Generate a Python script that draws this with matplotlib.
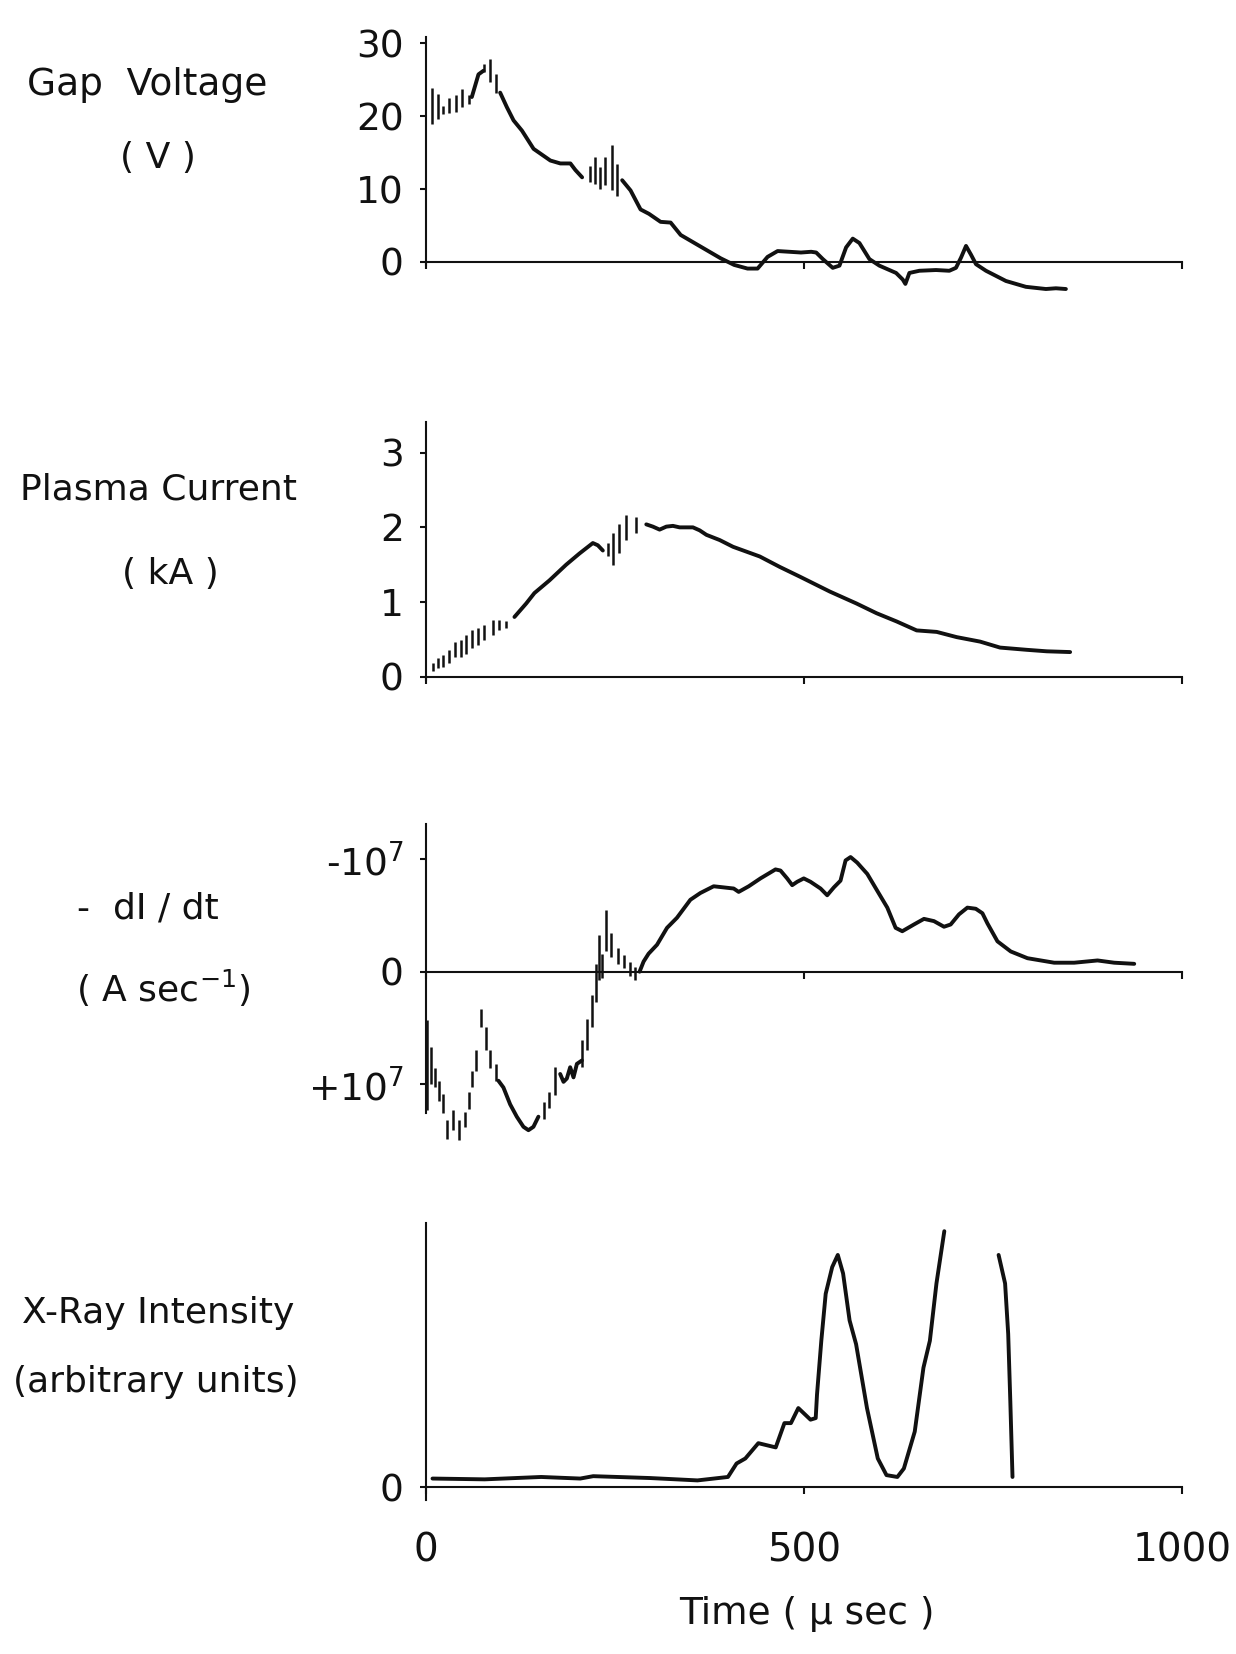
import numpy as np
import matplotlib
matplotlib.use("Agg")
import matplotlib.pyplot as plt

nan = np.nan

# ---- Gap voltage (V) ----
gap_t = [60.6, 69.4, 76.0, nan,
         98.1, 107.0, 115.8, 126.9, 142.3, 164.5, 177.7, 191.0, 197.6, 206.5, nan,
         259.5, 270.6, 283.8, 294.9, 310.3, 323.6, 336.9, 363.4, 389.9, 407.6, 425.3,
         438.6, 451.8, 465.1, 496.0, 509.5, 516.1, 524.9, 538.0, 546.9, 555.7, 564.5,
         573.3, 586.5, 599.7, 621.8, 630.6, 634.1, 639.4, 652.6, 674.6, 692.2, 701.0,
         707.7, 714.3, 720.9, 727.5, 740.7, 767.1, 793.5, 820.0, 833.2, 846.4]
gap_v = [22.6, 25.7, 26.2, nan,
         23.2, 21.2, 19.4, 18.0, 15.5, 13.9, 13.5, 13.5, 12.6, 11.6, nan,
         11.2, 9.8, 7.2, 6.6, 5.5, 5.4, 3.7, 2.1, 0.5, -0.4, -0.9,
         -0.9, 0.7, 1.5, 1.3, 1.4, 1.3, 0.4, -0.8, -0.5, 2.0, 3.2,
         2.6, 0.4, -0.5, -1.5, -2.4, -3.0, -1.5, -1.2, -1.1, -1.2, -0.8,
         0.6, 2.2, 1.0, -0.3, -1.2, -2.6, -3.4, -3.7, -3.6, -3.7]
gap_bar_t = [7.5, 15.5, 23.0, 30.9, 39.4, 47.3, 57.5, 76.9, 84.9, 92.8,
             216.6, 223.3, 230.8, 237.4, 245.4, 252.9]
gap_bar_lo = [18.9, 19.6, 20.3, 20.4, 20.5, 21.3, 21.6, 26.0, 24.6, 23.2,
              11.0, 10.7, 10.0, 10.5, 9.8, 9.1]
gap_bar_hi = [23.9, 23.0, 21.4, 22.5, 22.9, 23.7, 22.9, 27.1, 27.8, 25.8,
              13.2, 14.4, 13.0, 14.4, 16.0, 13.4]

# ---- Plasma current (kA) ----
cur_t = [117.0, 132.5, 143.4, 163.3, 185.4, 203.0, 220.7, 227.3, 233.9, nan,
         291.4, 300.1, 309.0, 317.9, 326.6, 335.5, 353.1, 362.0, 370.9, 388.5,
         406.1, 441.5, 468.0, 494.5, 534.2, 569.5, 596.0, 622.5, 649.0, 675.5,
         702.0, 732.9, 759.3, 794.7, 821.2, 852.0]
cur_i = [0.80, 0.98, 1.12, 1.29, 1.50, 1.65, 1.79, 1.76, 1.69, nan,
         2.04, 2.01, 1.97, 2.01, 2.02, 2.00, 2.00, 1.96, 1.90, 1.83,
         1.74, 1.61, 1.47, 1.34, 1.14, 0.98, 0.85, 0.74, 0.62, 0.60,
         0.53, 0.47, 0.39, 0.36, 0.34, 0.33]
cur_bar_t = [8.8, 15.4, 22.0, 30.0, 38.8, 46.4, 53.0, 60.9, 68.4, 77.2, 88.2, 97.1, 106.0,
             240.5, 247.2, 255.1, 264.9, 278.1]
cur_bar_lo = [0.07, 0.11, 0.13, 0.18, 0.26, 0.27, 0.31, 0.38, 0.42, 0.49, 0.56, 0.63, 0.65,
              1.61, 1.50, 1.65, 1.83, 1.92]
cur_bar_hi = [0.18, 0.25, 0.29, 0.36, 0.47, 0.49, 0.56, 0.63, 0.65, 0.69, 0.76, 0.76, 0.74,
              1.79, 1.92, 2.05, 2.16, 2.14]

# ---- -dI/dt (units of 1e7 A/s) ----
did_t = [95.8, 102.4, 111.3, 120.1, 128.9, 135.5, 142.1, 148.7, nan,
         177.5, 181.9, 186.3, 190.7, 195.1, 199.6, 206.2, nan,
         282.5, 287.8, 294.4, 305.6, 318.8, 332.0, 349.7, 362.9, 380.5, 407.0,
         413.6, 426.9, 442.4, 462.3, 468.9, 477.7, 484.4, 491.0, 499.7, 508.6,
         521.9, 530.7, 539.5, 548.3, 555.0, 561.6, 570.4, 583.7, 596.9, 610.2,
         621.2, 630.0, 645.4, 658.7, 671.9, 685.2, 694.0, 705.0, 716.1, 727.2,
         736.0, 742.6, 755.9, 773.5, 795.6, 830.9, 857.4, 888.3, 910.3, 936.8]
did_y = [-0.97, -1.03, -1.18, -1.29, -1.38, -1.41, -1.38, -1.29, nan,
         -0.91, -0.98, -0.95, -0.85, -0.94, -0.82, -0.79, nan,
         0.00, 0.09, 0.16, 0.24, 0.39, 0.48, 0.64, 0.70, 0.76, 0.74,
         0.71, 0.76, 0.83, 0.91, 0.90, 0.83, 0.77, 0.80, 0.83, 0.80,
         0.74, 0.68, 0.75, 0.81, 0.99, 1.02, 0.97, 0.87, 0.72, 0.57,
         0.39, 0.36, 0.42, 0.47, 0.45, 0.40, 0.42, 0.51, 0.57, 0.56,
         0.52, 0.43, 0.27, 0.18, 0.12, 0.08, 0.08, 0.10, 0.08, 0.07]
did_bar_t = [1.8, 6.2, 11.9, 17.7, 22.1, 27.4, 36.2, 44.2, 51.7, 57.4, 60.5, 66.2,
             72.4, 79.5, 84.8, 92.3, 156.3, 163.3, 170.9,
             206.2, 212.8, 219.5, 224.8, 229.1, 232.7, 238.4, 244.6, 253.4, 261.3,
             269.3, 276.8]
did_bar_lo = [-1.23, -1.00, -1.03, -1.15, -1.26, -1.49, -1.41, -1.50, -1.38, -1.22,
              -1.03, -0.88, -0.49, -0.70, -0.86, -0.97, -1.31, -1.21, -1.10,
              -0.85, -0.70, -0.49, -0.27, -0.07, -0.06, 0.18, 0.13, 0.07, 0.03,
              -0.04, -0.07]
did_bar_hi = [-0.43, -0.67, -0.86, -0.97, -1.09, -1.32, -1.23, -1.32, -1.25, -1.07,
              -0.88, -0.70, -0.33, -0.49, -0.70, -0.82, -1.16, -1.07, -0.85,
              -0.61, -0.42, -0.21, 0.07, 0.33, 0.16, 0.55, 0.34, 0.21, 0.15,
              0.09, 0.04]

# ---- X-ray intensity (arbitrary) ----
xr_t = [8.6, 77.6, 152.3, 204.0, 221.2, 296.0, 359.1, 399.4, 410.8, 422.4,
        439.6, 462.6, 474.1, 482.7, 492.5, 508.6, 515.5, 517.2, 522.9, 528.7,
        537.3, 544.7, 551.7, 560.3, 568.9, 583.3, 597.6, 609.1, 623.5, 632.1,
        646.5, 658.0, 666.5, 675.2, 685.6, nan,
        757.4, 766.0, 770.1, 772.9, 775.8]
xr_y = [0.032, 0.029, 0.038, 0.032, 0.041, 0.034, 0.025, 0.038, 0.089, 0.108,
        0.166, 0.150, 0.242, 0.242, 0.299, 0.255, 0.261, 0.350, 0.554, 0.732,
        0.833, 0.879, 0.809, 0.631, 0.541, 0.299, 0.108, 0.045, 0.038, 0.070,
        0.210, 0.452, 0.554, 0.771, 0.969, nan,
        0.879, 0.771, 0.580, 0.325, 0.038]

X_TICKS = [0, 500, 1000]
X_LABELS = ['0', '500', '1000']

plt.rcParams['font.family'] = ['DejaVu Sans']
W, H = 1236, 1654
X0, X1 = 426, 1182
INK = '#111111'

fig = plt.figure(figsize=(W / 100, H / 100), dpi=100)


def place(ax, px0, px1, v1, lo, hi, spine_lo, spine_hi):
    # px0 = pixel row of value 0, px1 = pixel row of value v1
    s = (px0 - px1) / v1
    top = px0 - hi * s
    bot = px0 - lo * s
    ax.set_position([X0 / W, 1 - bot / H, (X1 - X0) / W, (bot - top) / H])
    ax.set_xlim(0, 1000)
    ax.set_ylim(lo, hi)
    for side in ['top', 'right']:
        ax.spines[side].set_visible(False)
    ax.spines['bottom'].set_position(('data', 0))
    ax.spines['left'].set_bounds(spine_lo, spine_hi)
    for side in ['left', 'bottom']:
        ax.spines[side].set_linewidth(1.5)
        ax.spines[side].set_color(INK)
    ax.tick_params(axis='y', direction='out', length=4, width=1.5, pad=12,
                   labelsize=27, colors=INK)
    ax.tick_params(axis='x', direction='out', length=5, width=1.5, pad=27,
                   labelsize=28, colors=INK)
    ax.set_xticks(X_TICKS)
    ax.patch.set_alpha(0)


def trace(ax, t, y):
    ax.plot(t, y, color=INK, lw=2.8, solid_capstyle='round', solid_joinstyle='round')


ax1 = fig.add_axes([0, 0, 1, 1])
place(ax1, 262, 43, 30, -5, 31, -0.4, 30.8)
trace(ax1, gap_t, gap_v)
ax1.vlines(gap_bar_t, gap_bar_lo, gap_bar_hi, color=INK, lw=1.8)
ax1.set_yticks([0, 10, 20, 30])
ax1.set_xticklabels([])

ax2 = fig.add_axes([0, 0, 1, 1])
place(ax2, 676.7, 452.7, 3, -0.3, 3.45, -0.05, 3.41)
trace(ax2, cur_t, cur_i)
ax2.vlines(cur_bar_t, cur_bar_lo, cur_bar_hi, color=INK, lw=1.8)
ax2.set_yticks([0, 1, 2, 3])
ax2.set_xticklabels([])

ax3 = fig.add_axes([0, 0, 1, 1])
place(ax3, 971.7, 859.3, 1, -1.6, 1.35, -1.26, 1.31)
trace(ax3, did_t, did_y)
ax3.vlines(did_bar_t, did_bar_lo, did_bar_hi, color=INK, lw=1.8)
ax3.set_yticks([-1, 0, 1])
ax3.set_yticklabels(['+10$^7$', '0', '-10$^7$'])
ax3.set_xticklabels([])

ax4 = fig.add_axes([0, 0, 1, 1])
place(ax4, 1487, 1223, 1, -0.1, 1.02, -0.05, 1.0)
trace(ax4, xr_t, xr_y)
ax4.set_yticks([0])
ax4.set_xticklabels(X_LABELS)


def label(x, y, s, size=26):
    fig.text(x / W, 1 - y / H, s, ha='center', va='center', fontsize=size,
             color=INK)


label(147, 85, 'Gap  Voltage', size=27)
label(158, 158, '( V )')
label(159, 490, 'Plasma Current')
label(170, 574, '( kA )')
label(148, 909, '-  dI / dt')
label(163, 988, '( A sec$^{-1}$)')
label(158, 1313, 'X-Ray Intensity')
label(156, 1382, '(arbitrary units)')
label(807, 1614, 'Time ( \u03bc sec )', size=27)

fig.savefig('out.png', dpi=100, facecolor='white')
